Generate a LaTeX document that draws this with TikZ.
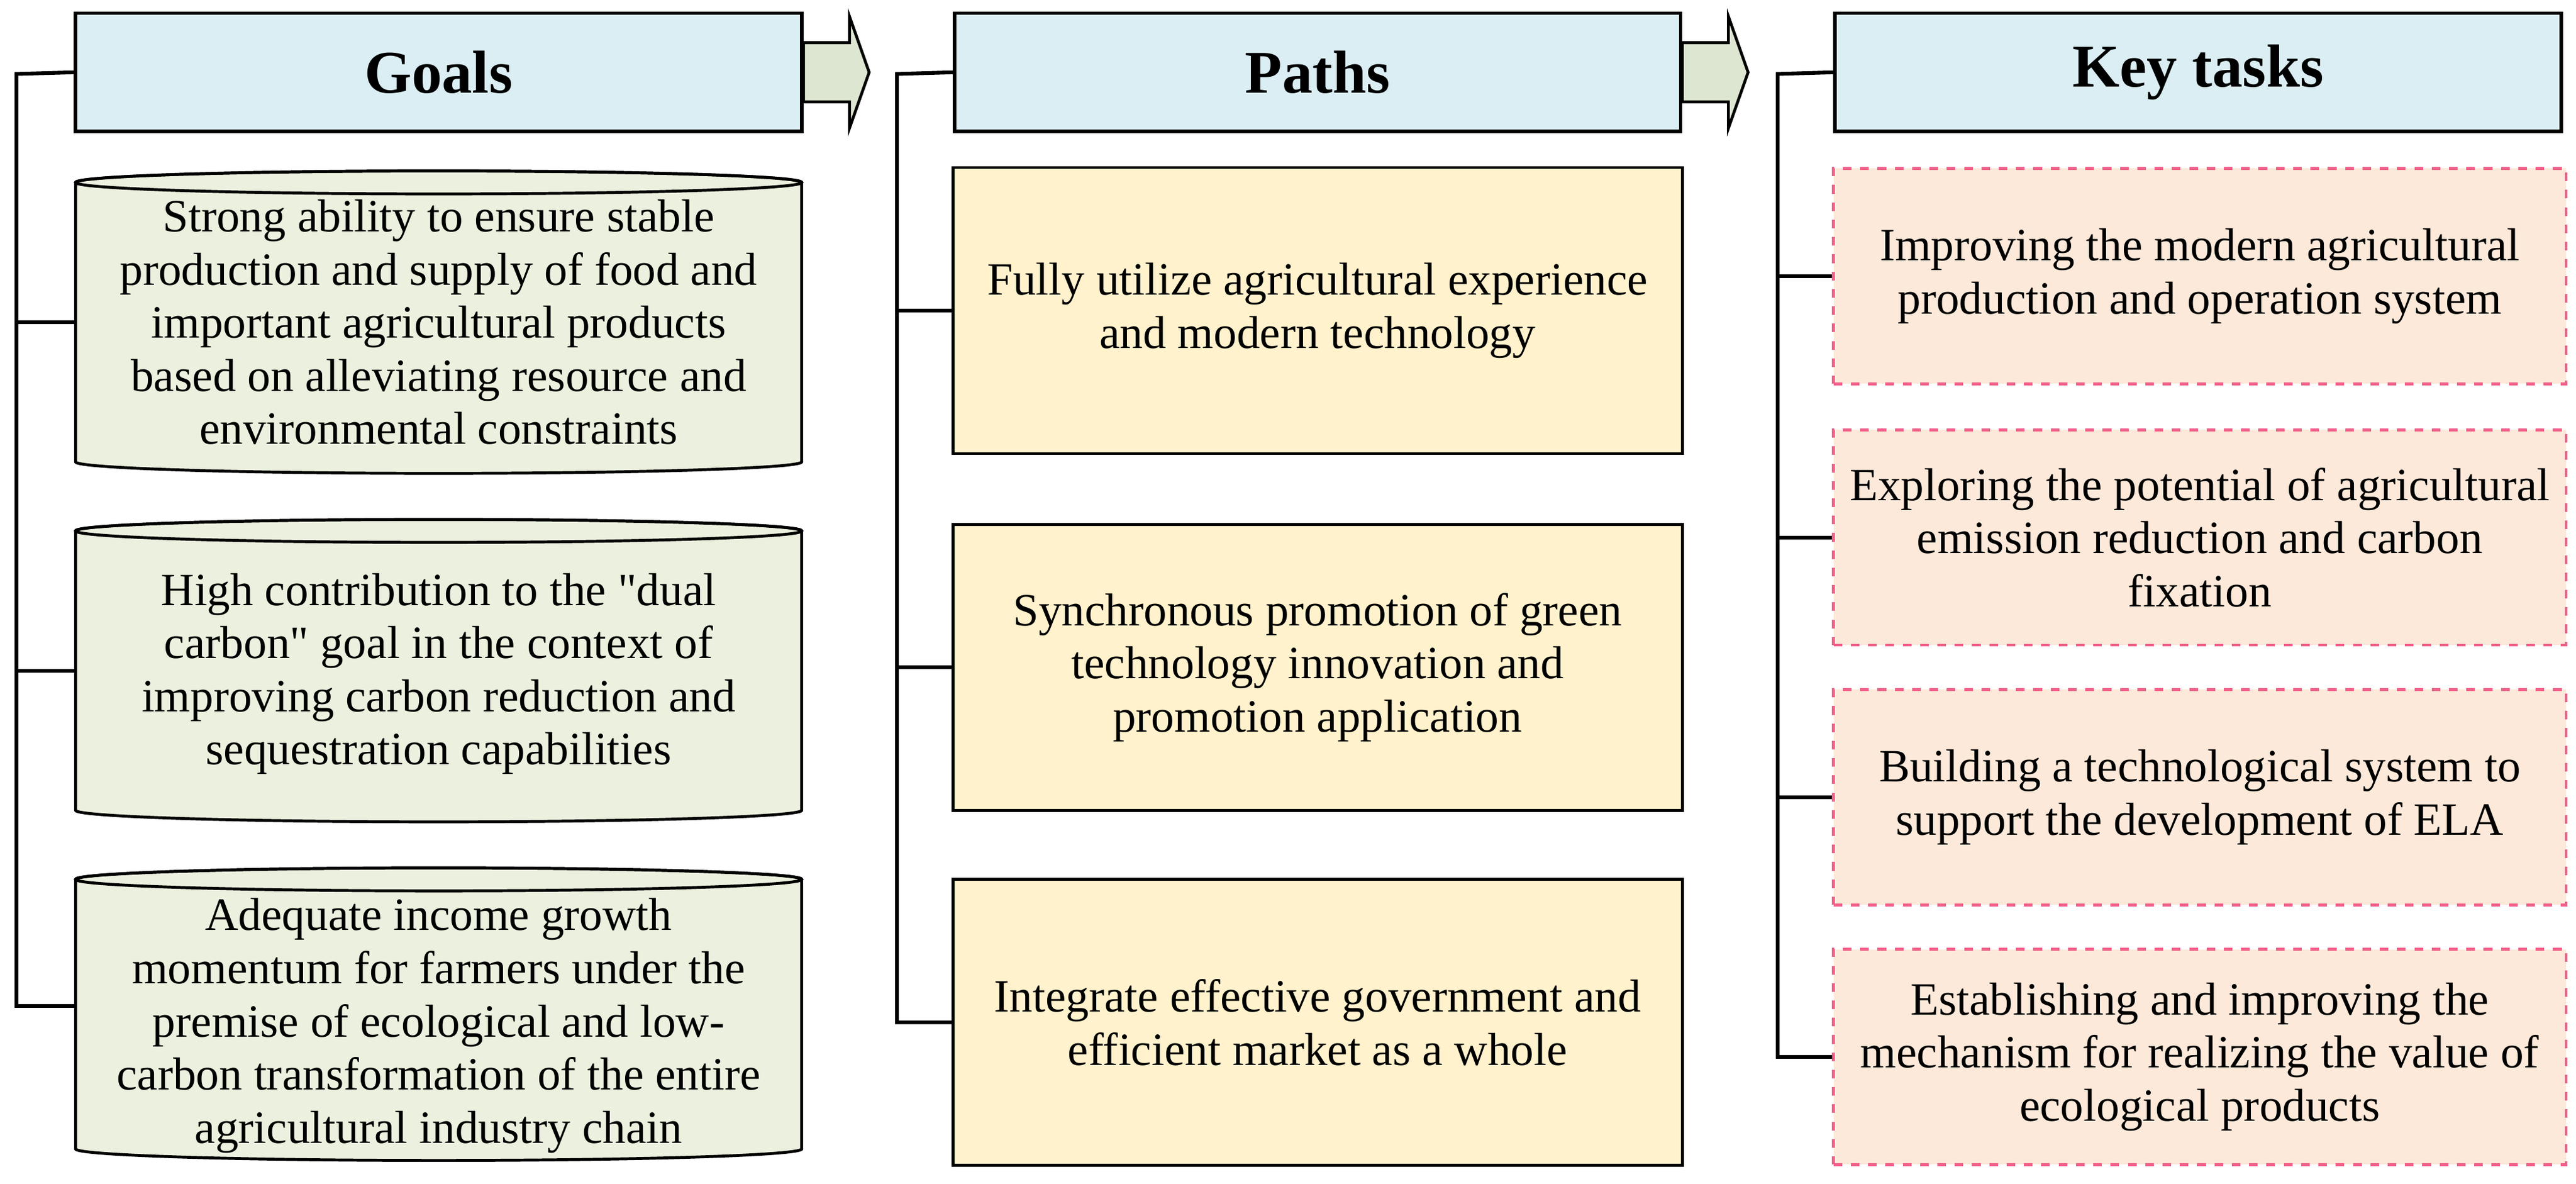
\documentclass[tikz,border=0pt]{standalone}
\usepackage{fontspec}
\setmainfont{Liberation Serif}
\newfontfamily\sqfont{Liberation Serif}
\newcommand{\sqq}{{\sqfont\symbol{34}}}
\definecolor{hdr}{HTML}{DAEEF3}
\definecolor{gfill}{HTML}{EBF1DE}
\definecolor{pfill}{HTML}{FFF2CC}
\definecolor{kfill}{HTML}{FDE9D9}
\definecolor{kline}{HTML}{F0608A}
\definecolor{afill}{HTML}{DDE6D0}
\begin{document}
\begin{tikzpicture}[x=0.02cm,y=0.02cm,
  hd/.style={draw=black,line width=1.2pt,fill=hdr,minimum width=442*0.02cm,minimum height=72*0.02cm,font=\fontsize{21}{24}\selectfont\bfseries,inner sep=0pt},
  txt/.style={align=center,font=\fontsize{16}{18.4}\selectfont,inner sep=0pt},
  pbox/.style={draw=black,line width=1pt,fill=pfill,minimum width=444*0.02cm,minimum height=174*0.02cm,txt},
  kbox/.style={draw=kline,dashed,line width=1pt,fill=kfill,minimum width=446*0.02cm,minimum height=131*0.02cm,txt},
  cyl/.style={draw=black,line width=1pt,fill=gfill},
  br/.style={line width=1.3pt},
  arr/.style={draw=black,line width=1pt,fill=afill,line join=miter}]
\useasboundingbox (0,0) rectangle (1568,720);
% headers
\node[hd] (g) at (267,676) {Goals};
\node[hd] (p) at (802,676) {Paths};
\node[hd] (k) at (1338,676) {Key tasks};
\coordinate (a1) at (g.east); \coordinate (a2) at (p.east);
\foreach \c in {a1,a2}{
  \path[arr] (\c) ++(0,18) -- ++(28,0) -- ++(0,16) -- ++(12,-34) -- ++(-12,-34) -- ++(0,16) -- ++(-28,0) -- cycle;
}
% cylinders
\foreach \t/\b in {616/432,404/220,192/14}{
  \path[cyl] (46,\t-7) -- (46,\b+7) arc[start angle=180,end angle=360,x radius=221,y radius=7] -- (488,\t-7) arc[start angle=0,end angle=180,x radius=221,y radius=7] -- cycle;
  \draw[line width=1pt] (267,\t-7) ellipse[x radius=221,y radius=7];
}
\node[txt] (g1) at (267,524) {Strong ability to ensure stable\\production and supply of food and\\important agricultural products\\based on alleviating resource and\\environmental constraints};
\node[txt] (g2) at (267,310) {High contribution to the \sqq dual\\carbon\sqq{} goal in the context of\\improving carbon reduction and\\sequestration capabilities};
\node[txt] (g3) at (267,96) {Adequate income growth\\momentum for farmers under the\\premise of ecological and low-\\carbon transformation of the entire\\agricultural industry chain};
\coordinate (g1w) at (46,524); \coordinate (g2w) at (46,312); \coordinate (g3w) at (46,108);
% paths
\node[pbox] (p1) at (802,531) {Fully utilize agricultural experience\\and modern technology};
\node[pbox] (p2) at (802,314) {Synchronous promotion of green\\technology innovation and\\promotion application};
\node[pbox] (p3) at (802,98) {Integrate effective government and\\efficient market as a whole};
% key tasks
\node[kbox] (k1) at (1339,552) {Improving the modern agricultural\\production and operation system};
\node[kbox] (k2) at (1339,393) {Exploring the potential of agricultural\\emission reduction and carbon\\fixation};
\node[kbox] (k3) at (1339,235) {Building a technological system to\\support the development of ELA};
\node[kbox] (k4) at (1339,77) {Establishing and improving the\\mechanism for realizing the value of\\ecological products};
% brackets
\coordinate (bg) at (10,675); \coordinate (bge) at (10,108);
\draw[br] (g.west) -- (bg) -- (bge) -- (g3w);
\draw[br] (10,524) -- (g1w); \draw[br] (10,312) -- (g2w);
\coordinate (bp) at (546,675); \coordinate (bpe) at (546,98);
\draw[br] (p.west) -- (bp) -- (bpe) -- (p3.west);
\draw[br] (546,531) -- (p1.west); \draw[br] (546,314) -- (p2.west);
\coordinate (bk) at (1082,675); \coordinate (bke) at (1082,77);
\draw[br] (k.west) -- (bk) -- (bke) -- (k4.west);
\draw[br] (1082,552) -- (k1.west); \draw[br] (1082,393) -- (k2.west); \draw[br] (1082,235) -- (k3.west);
\end{tikzpicture}
\end{document}
